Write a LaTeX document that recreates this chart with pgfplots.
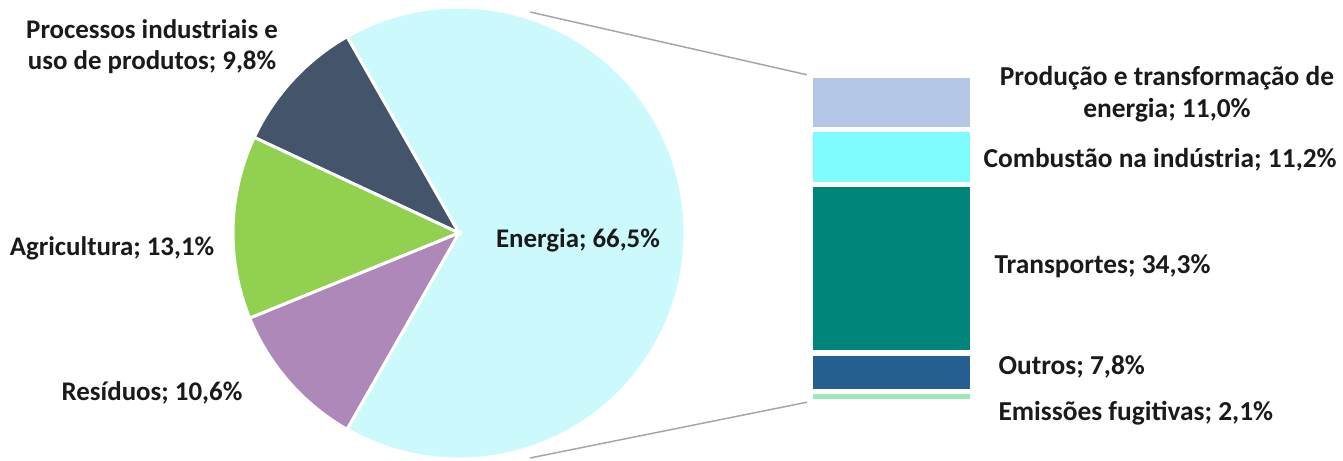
\documentclass[border=0pt]{standalone}
\usepackage{pgfplots}
\pgfplotsset{compat=1.18}
\usepackage{fontspec}
\setmainfont{Carlito}
\definecolor{cEne}{HTML}{CCFAFC}
\definecolor{cPro}{HTML}{44546A}
\definecolor{cAgr}{HTML}{92D050}
\definecolor{cRes}{HTML}{AE88B8}
\definecolor{cPT}{HTML}{B4C7E7}
\definecolor{cCI}{HTML}{7FFDFE}
\definecolor{cTr}{HTML}{00857A}
\definecolor{cOu}{HTML}{255E91}
\definecolor{cEF}{HTML}{9BE8B8}
\definecolor{cLine}{HTML}{A6A6A6}
\definecolor{cTxt}{HTML}{1A1A1A}
% main pie values (percent)
\def\vEne{66.5}
\def\vPro{9.8}
\def\vAgr{13.1}
\def\vRes{10.6}
\begin{document}
\begin{tikzpicture}[font=\fontsize{27}{31}\selectfont\bfseries, text=cTxt,
  rl/.style={font=\fontsize{27.5}{32}\selectfont\bfseries}]
\useasboundingbox (0,0) rectangle (1343bp,461bp);
\begin{axis}[
  at={(0,0)}, anchor=south west,
  x=1bp, y=1bp,
  xmin=0, xmax=1343, ymin=0, ymax=461,
  y dir=reverse,
  hide axis, clip=false,
]
\pgfmathsetmacro{\aA}{-\vEne*1.8}
\pgfmathsetmacro{\aB}{\vEne*1.8}
\pgfmathsetmacro{\aC}{\aB+\vPro*3.6}
\pgfmathsetmacro{\aD}{\aC+\vAgr*3.6}
\pgfmathsetmacro{\aE}{\aD+\vRes*3.6}
% connector lines
\draw[cLine, line width=1.5bp] (axis cs:530,12) -- (axis cs:808,75);
\draw[cLine, line width=1.5bp] (axis cs:530,458) -- (axis cs:808,402);
% pie
\fill[cEne, draw=white, line width=3bp] (axis cs:459,233) -- ++(\aA:226bp) arc[start angle=\aA, end angle=\aB, radius=226bp] -- cycle;
\fill[cPro, draw=white, line width=3bp] (axis cs:459,233) -- ++(\aB:226bp) arc[start angle=\aB, end angle=\aC, radius=226bp] -- cycle;
\fill[cAgr, draw=white, line width=3bp] (axis cs:459,233) -- ++(\aC:226bp) arc[start angle=\aC, end angle=\aD, radius=226bp] -- cycle;
\fill[cRes, draw=white, line width=3bp] (axis cs:459,233) -- ++(\aD:226bp) arc[start angle=\aD, end angle=\aE, radius=226bp] -- cycle;
% labels
\node[align=center] at (axis cs:152,47) {Processos industriais e\\uso de produtos; 9,8\%};
\node at (axis cs:112,248) {Agricultura; 13,1\%};
\node at (axis cs:152,393) {Resíduos; 10,6\%};
\node at (axis cs:578,240) {Energia; 66,5\%};
\node[rl, align=center] at (axis cs:1167,94) {Produção e transformação de\\energia; 11,0\%};
\node[rl, anchor=west] at (axis cs:980,160) {Combustão na indústria; 11,2\%};
\node[rl, anchor=west] at (axis cs:991,266) {Transportes; 34,3\%};
\node[rl, anchor=west] at (axis cs:995,367) {Outros; 7,8\%};
\node[rl, anchor=west] at (axis cs:995,413) {Emissões fugitivas; 2,1\%};
\end{axis}
\begin{axis}[
  at={(810bp,59.25bp)}, anchor=south west,
  width=163bp, height=326.5bp, scale only axis,
  xmin=-0.5, xmax=0.5, ymin=0, ymax=66.4,
  ybar stacked, bar width=163bp,
  hide axis, clip=false,
]
\addplot[fill=cEF, draw=white, line width=5.5bp] coordinates {(0,2.1)};
\addplot[fill=cOu, draw=white, line width=5.5bp] coordinates {(0,7.8)};
\addplot[fill=cTr, draw=white, line width=5.5bp] coordinates {(0,34.3)};
\addplot[fill=cCI, draw=white, line width=5.5bp] coordinates {(0,11.2)};
\addplot[fill=cPT, draw=white, line width=5.5bp] coordinates {(0,11.0)};
\end{axis}
\end{tikzpicture}
\end{document}
